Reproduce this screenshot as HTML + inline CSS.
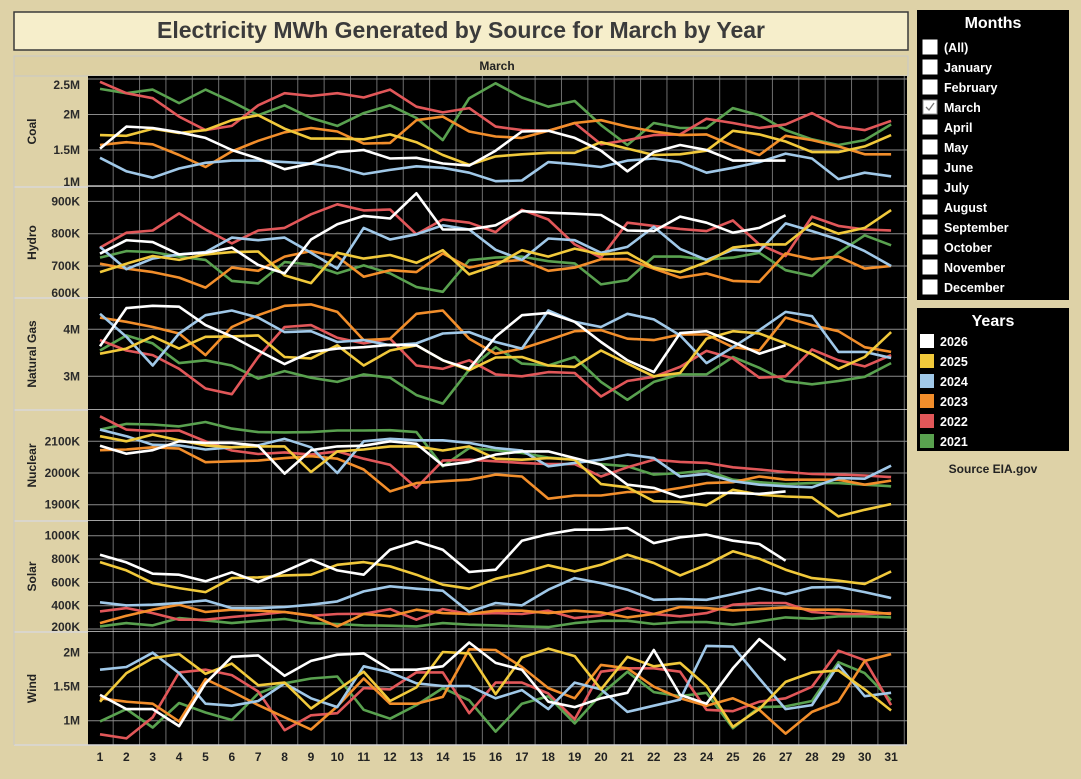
<!DOCTYPE html>
<html><head><meta charset="utf-8">
<style>
html,body{margin:0;padding:0;background:#ded2a7;}
svg{display:block;font-family:"Liberation Sans",sans-serif;}
</style></head>
<body>
<svg id="chart" width="1081" height="779" viewBox="0 0 1081 779" xmlns="http://www.w3.org/2000/svg">
  <rect x="0" y="0" width="1081" height="779" fill="#ded2a7"/>
  <rect x="14" y="12" width="894" height="38" fill="#f6eecb" stroke="#3a3a3a" stroke-width="1.5"/>
  <text x="461" y="38" text-anchor="middle" font-size="23" font-weight="bold" fill="#3b3b3b">Electricity MWh Generated by Source for March by Year</text>
  <rect x="14" y="56" width="894" height="20" fill="#ddd0a3" stroke="#c8c8c8" stroke-width="1"/>
  <text x="497" y="70" text-anchor="middle" font-size="12" font-weight="bold" fill="#222">March</text>
  <g id="panels"></g>
  <g id="xaxis"></g>

  <!-- Months filter -->
  <rect x="917" y="10" width="152" height="290" fill="#000"/>
  <text x="993" y="28" text-anchor="middle" font-size="16" font-weight="bold" fill="#fff">Months</text>
  <g id="months"></g>

  <!-- Years legend -->
  <rect x="917" y="308" width="152" height="143" fill="#000"/>
  <text x="993" y="326" text-anchor="middle" font-size="16" font-weight="bold" fill="#fff">Years</text>
  <g id="years"></g>
  <text x="993" y="473" text-anchor="middle" font-size="12" font-weight="bold" fill="#222">Source EIA.gov</text>
</svg>
<script>
const days = [1,2,3,4,5,6,7,8,9,10,11,12,13,14,15,16,17,18,19,20,21,22,23,24,25,26,27,28,29,30,31];
const years = ["2026","2025","2024","2023","2022","2021"];
const yearColors = ["#ffffff","#f1c93b","#a0c8e8","#f28e2b","#e15759","#59a14f"];
const monthNames = ["(All)","January","February","March","April","May","June","July","August","September","October","November","December"];

const coalTicks = ["2.5M","2M","1.5M","1M"];
const coalTickValues = [2.5,2,1.5,1];
const coal2026 = [1.52,1.83,1.81,1.75,1.67,1.50,1.38,1.23,1.31,1.47,1.50,1.38,1.39,1.31,1.28,1.49,1.76,1.77,1.67,1.49,1.20,1.47,1.57,1.50,1.35,1.35,1.35];
const coal2025 = [1.71,1.70,1.80,1.74,1.78,1.92,1.99,1.80,1.66,1.66,1.65,1.72,1.61,1.43,1.29,1.41,1.44,1.46,1.46,1.61,1.52,1.43,1.44,1.49,1.77,1.72,1.62,1.47,1.47,1.55,1.71];
const coal2024 = [1.39,1.20,1.11,1.24,1.32,1.35,1.35,1.33,1.31,1.26,1.16,1.22,1.27,1.25,1.18,1.06,1.07,1.33,1.30,1.26,1.35,1.38,1.33,1.18,1.25,1.33,1.45,1.38,1.09,1.18,1.13];
const coal2023 = [1.57,1.61,1.58,1.43,1.26,1.48,1.63,1.75,1.81,1.76,1.59,1.60,1.92,1.97,1.76,1.69,1.67,1.77,1.88,1.92,1.83,1.76,1.71,1.72,1.56,1.43,1.70,1.64,1.55,1.44,1.44];
const coal2022 = [2.46,2.30,2.23,1.97,1.78,1.84,2.13,2.30,2.26,2.30,2.24,2.35,2.11,2.03,2.09,1.83,1.78,1.77,1.88,1.58,1.64,1.71,1.72,1.94,1.88,1.81,1.86,2.02,1.83,1.78,1.91];
const coal2021 = [2.36,2.30,2.35,2.16,2.35,2.18,1.99,2.13,1.95,1.84,2.02,2.13,1.95,1.64,2.23,2.44,2.24,2.11,2.19,1.85,1.57,1.88,1.81,1.81,2.09,1.99,1.78,1.65,1.57,1.64,1.86];

const hydroTicks = ["900K","800K","700K","600K"];
const hydroTickValues = [900,800,700,600];
const hydro2026 = [738,780,774,736,741,757,703,677,782,829,855,847,925,813,813,826,870,865,862,858,810,808,853,834,803,818,857];
const hydro2025 = [681,707,731,719,736,743,745,671,647,741,723,734,710,749,674,702,749,729,754,736,741,695,681,712,757,767,767,832,800,818,873];
const hydro2024 = [759,690,723,736,743,788,780,788,741,692,818,782,798,826,813,750,719,785,780,741,759,821,753,719,750,746,832,808,782,746,700];
const hydro2023 = [707,692,681,664,633,695,685,729,746,729,667,687,681,739,695,712,719,685,695,721,721,692,664,677,654,651,739,721,729,692,700];
const hydro2022 = [757,803,810,863,813,770,810,818,860,891,872,875,798,844,834,805,874,844,767,726,834,824,815,808,841,767,731,853,824,813,810];
const hydro2021 = [726,746,743,729,719,654,646,712,705,677,702,677,635,620,718,726,729,715,708,643,656,729,729,720,726,741,687,669,741,795,764];

const gasTicks = ["4M","3M"];
const gasTickValues = [4,3];
const gas2026 = [3.64,4.45,4.50,4.48,4.09,3.85,3.55,3.26,3.52,3.59,3.62,3.67,3.66,3.34,3.16,3.84,4.30,4.35,4.16,3.73,3.34,3.09,3.92,3.96,3.73,3.48,3.66];
const gas2025 = [3.48,3.59,3.85,3.59,3.84,3.85,3.87,3.41,3.38,3.66,3.23,3.55,3.66,3.34,3.13,3.40,3.41,3.23,3.20,3.55,3.27,3.00,3.07,3.80,3.96,3.91,3.70,3.47,3.16,3.41,3.94];
const gas2024 = [4.33,3.84,3.23,3.91,4.30,4.40,4.25,3.94,3.96,3.73,3.77,3.66,3.70,3.91,3.94,3.73,3.59,4.40,4.16,4.05,4.33,4.21,3.87,3.28,3.62,3.98,4.37,4.28,3.52,3.52,3.39];
const gas2023 = [4.25,4.16,4.05,3.91,3.45,4.05,4.30,4.50,4.53,4.37,3.77,3.80,4.33,4.40,3.80,3.48,3.59,3.77,3.96,3.98,3.80,3.77,3.89,3.89,3.62,3.55,4.25,4.09,3.96,3.62,3.52];
const gas2022 = [3.77,3.55,3.45,3.16,2.74,2.62,3.41,4.05,4.09,3.82,3.70,3.80,3.23,3.16,3.34,3.04,3.00,3.09,3.07,2.57,2.90,2.99,3.20,3.54,3.38,2.97,3.00,3.57,3.34,3.21,3.45];
const gas2021 = [3.55,3.87,3.70,3.28,3.34,3.23,2.95,3.11,2.97,2.88,3.04,2.97,2.60,2.42,3.14,3.62,3.27,3.23,3.41,2.88,2.50,2.88,3.04,3.04,3.41,3.18,2.90,2.83,2.90,2.99,3.28];

const nucTicks = ["2100K","2000K","1900K"];
const nucTickValues = [2100,2000,1900];
const nuc2026 = [2086,2061,2072,2100,2095,2095,2086,1998,2072,2084,2086,2100,2092,2024,2035,2058,2068,2068,2047,2026,1963,1953,1924,1937,1937,1934,1942];
const nuc2025 = [2116,2100,2121,2103,2087,2081,2084,2084,2003,2068,2074,2084,2084,2071,2084,2045,2042,2047,2042,1965,1955,1911,1909,1898,1947,1932,1926,1923,1863,1884,1902];
const nuc2024 = [2137,2116,2089,2087,2074,2081,2087,2108,2081,2000,2100,2108,2103,2103,2095,2079,2071,2021,2032,2042,2058,2047,1989,1997,1974,1963,1958,1955,1984,1982,2023];
const nuc2023 = [2072,2074,2081,2077,2034,2037,2039,2047,2053,2045,2011,1942,1968,1974,1979,1995,1989,1919,1929,1929,1940,1940,1953,1968,1971,1989,1979,1979,1979,1963,1976];
const nuc2022 = [2179,2137,2132,2134,2100,2071,2060,2065,2058,2068,2045,2026,1953,2039,2042,2037,2032,2028,2028,1989,2018,2042,2035,2032,2018,2011,2003,1997,1995,1992,1987];
const nuc2021 = [2137,2155,2153,2147,2161,2140,2129,2128,2129,2134,2134,2135,2129,2021,2079,2072,2063,2049,2042,2028,2021,1995,2000,2008,1979,1971,1965,1968,1968,1963,1958];

const solarTicks = ["1000K","800K","600K","400K","200K"];
const solarTickValues = [1000,800,600,400,200];
const solar2026 = [837,771,674,666,609,686,603,694,794,703,666,880,951,880,689,709,957,1014,1051,1051,1066,937,986,1009,957,929,786];
const solar2025 = [774,703,594,551,517,637,643,660,666,751,774,737,666,580,546,631,680,746,694,751,837,766,660,751,866,803,709,637,614,586,694];
const solar2024 = [429,403,409,423,446,380,380,389,409,437,523,566,546,529,346,423,403,537,637,594,537,451,457,451,500,551,500,557,560,517,466];
const solar2023 = [251,314,366,409,346,366,357,346,317,223,329,309,366,337,329,357,357,337,357,343,300,329,389,380,360,371,386,366,366,351,329];
const solar2022 = [351,380,337,280,280,303,323,346,314,329,331,371,280,371,329,337,329,357,294,317,380,329,309,337,409,423,423,346,329,329,337];
const solar2021 = [223,251,231,294,274,251,271,286,251,243,231,229,223,251,237,231,223,217,251,271,271,243,260,260,237,266,300,289,309,309,300];

const windTicks = ["2M","1.5M","1M"];
const windTickValues = [2,1.5,1];
const wind2026 = [1.38,1.17,1.17,0.92,1.55,1.94,1.96,1.66,1.88,1.97,1.99,1.75,1.75,1.80,2.15,1.85,1.75,1.28,1.20,1.33,1.41,2.04,1.38,1.25,1.77,2.20,1.89];
const wind2025 = [1.28,1.70,1.92,1.98,1.69,1.84,1.52,1.56,1.18,1.45,1.72,1.29,1.49,2.01,1.99,1.39,1.93,2.06,1.95,1.46,1.94,1.80,1.85,1.51,0.91,1.17,1.57,1.71,1.74,1.46,1.15];
const wind2024 = [1.75,1.79,2.00,1.70,1.25,1.22,1.29,1.55,1.33,1.20,1.80,1.71,1.55,1.51,1.51,1.33,1.45,1.17,1.56,1.46,1.13,1.22,1.31,2.10,2.09,1.62,1.17,1.23,1.82,1.36,1.41];
const wind2023 = [1.33,1.28,1.25,0.99,1.61,1.43,1.23,1.05,0.87,1.21,1.62,1.25,1.25,1.35,2.05,2.04,1.79,1.48,1.33,1.82,1.77,1.50,1.33,1.22,1.33,1.16,0.81,1.13,1.28,1.88,1.98];
const wind2022 = [0.80,0.74,1.05,1.71,1.75,1.67,1.43,0.86,1.08,1.11,1.48,1.46,1.71,1.71,1.11,1.56,1.56,1.40,1.02,1.72,1.77,1.77,1.72,1.16,1.14,1.28,1.33,1.50,2.03,1.89,1.23];
const wind2021 = [0.99,1.17,0.90,1.26,1.12,1.01,1.40,1.55,1.62,1.65,1.16,1.03,1.23,1.48,1.30,0.84,1.25,1.36,0.96,1.39,1.72,1.42,1.36,1.41,0.89,1.20,1.21,1.29,1.86,1.70,1.30];

const NS = "http://www.w3.org/2000/svg";
function mk(tag, attrs, parent){ const e=document.createElementNS(NS,tag); for(const k in attrs) e.setAttribute(k,attrs[k]); parent.appendChild(e); return e; }

const plotLeft = 88, plotRight = 907;
function xScale(d){ return 100 + (d-1)*26.37; }

// panel geometry: top, bottom, reference value, reference pixel, pixels per unit
const panels = [
  {name:"coal", label:"Coal", top:76, bottom:187, refV:2, refY:114.5, ppu:71, ticks:coalTicks, tv:coalTickValues, series:[coal2026,coal2025,coal2024,coal2023,coal2022,coal2021]},
  {name:"hydro", label:"Hydro", top:187, bottom:298, refV:800, refY:233.7, ppu:0.323, ticks:hydroTicks, tv:hydroTickValues, series:[hydro2026,hydro2025,hydro2024,hydro2023,hydro2022,hydro2021]},
  {name:"natural-gas", label:"Natural Gas", top:298, bottom:410, refV:4, refY:329.3, ppu:47, ticks:gasTicks, tv:gasTickValues, series:[gas2026,gas2025,gas2024,gas2023,gas2022,gas2021]},
  {name:"nuclear", label:"Nuclear", top:410, bottom:521, refV:2100, refY:441.3, ppu:0.317, ticks:nucTicks, tv:nucTickValues, series:[nuc2026,nuc2025,nuc2024,nuc2023,nuc2022,nuc2021]},
  {name:"solar", label:"Solar", top:521, bottom:632, refV:1000, refY:535.7, ppu:0.1167, ticks:solarTicks, tv:solarTickValues, series:[solar2026,solar2025,solar2024,solar2023,solar2022,solar2021]},
  {name:"wind", label:"Wind", top:632, bottom:745, refV:2, refY:652.7, ppu:68, ticks:windTicks, tv:windTickValues, series:[wind2026,wind2025,wind2024,wind2023,wind2022,wind2021]}
];

const gp = document.getElementById("panels");
panels.forEach(p=>{
  const yS = v => p.refY - (v - p.refV)*p.ppu;
  const g = mk("g",{},gp);
  
  
  const bg = mk("rect",{x:plotLeft,y:p.top,width:plotRight-plotLeft,height:p.bottom-p.top,fill:"#000"},g);
  
  
  const clipId = "clip-"+p.name;
  const cp = mk("clipPath",{id:clipId},g);
  mk("rect",{x:plotLeft,y:p.top,width:plotRight-plotLeft,height:p.bottom-p.top},cp);
  // vertical grid
  for(let d=1; d<=31; d++){
    const gx = xScale(d)+13.18;
    if(gx < plotRight){
      const l = mk("line",{x1:gx,x2:gx,y1:p.top,y2:p.bottom,stroke:"#6e6e6e","stroke-width":1},g);
      
      
    }
  }
  // horizontal grid + tick labels
  p.tv.forEach((v,i)=>{
    const y = yS(v);
    if(y > p.top+1 && y < p.bottom-1){
      const l = mk("line",{x1:plotLeft,x2:plotRight,y1:y,y2:y,stroke:"#8a8a8a","stroke-width":1},g);
      
      
    }
    const ly = Math.min(Math.max(y, p.top+9), p.bottom-5);
    const t = mk("text",{x:80,y:ly+4,"text-anchor":"end","font-size":12,"font-weight":"bold",fill:"#2a2a2a"},g);
    t.textContent = p.ticks[i];
    
    
  });
  // separator
  const sep = mk("line",{x1:14,x2:plotRight,y1:p.bottom,y2:p.bottom,stroke:"#d8d8d8","stroke-width":1.5},g);
  
  
  // row label
  const cy = (p.top+p.bottom)/2;
  const rl = mk("text",{x:0,y:0,transform:`translate(36,${cy}) rotate(-90)`,"text-anchor":"middle","font-size":12,"font-weight":"bold",fill:"#222"},g);
  rl.textContent = p.label;
  
  
  // series: draw back to front
  const lg = mk("g",{"clip-path":`url(#${clipId})`},g);
  for(let s=p.series.length-1; s>=0; s--){
    const vals = p.series[s];
    const pts = vals.map((v,i)=> xScale(days[i]).toFixed(1)+","+yS(v).toFixed(1)).join(" ");
    const pl = mk("polyline",{points:pts,fill:"none",stroke:yearColors[s],"stroke-width":2.6,"stroke-linejoin":"round"},lg);
    
    
  }
});
// left border of row header area
const hb = mk("line",{x1:14,x2:14,y1:56,y2:745,stroke:"#c8c8c8","stroke-width":1},gp);



// x-axis labels
const gx = document.getElementById("xaxis");
days.forEach(d=>{
  const t = mk("text",{x:xScale(d),y:761,"text-anchor":"middle","font-size":12,"font-weight":"bold",fill:"#222"},gx);
  t.textContent = d;
  
  
});

// months filter
const gm = document.getElementById("months");
monthNames.forEach((m,i)=>{
  const y = 47 + i*20;
  const cb = mk("rect",{x:923,y:y-7,width:14,height:14,fill:"#fff",stroke:m==="March"?"#999":"#fff","stroke-width":1},gm);
  
  
  if(m==="March"){
    const ck = mk("path",{d:`M926 ${y} L929 ${y+3} L934 ${y-4}`,fill:"none",stroke:"#777","stroke-width":1.3},gm);
    
    
  }
  const t = mk("text",{x:944,y:y+5,"font-size":12.5,"font-weight":"bold",fill:"#fff"},gm);
  t.textContent = m;
  
  
});

// years legend
const gyr = document.getElementById("years");
years.forEach((yv,i)=>{
  const y = 341 + i*20;
  const sw = mk("rect",{x:920,y:y-7,width:14,height:14,fill:yearColors[i]},gyr);
  
  
  const t = mk("text",{x:940,y:y+5,"font-size":12.5,"font-weight":"bold",fill:"#fff"},gyr);
  t.textContent = yv;
  
  
});
</script>
</body></html>
